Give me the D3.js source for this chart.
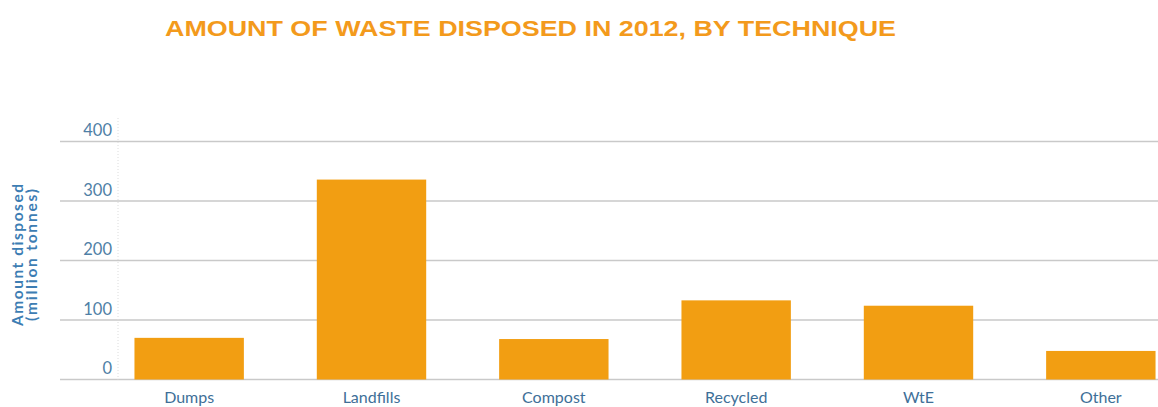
<!DOCTYPE html>
<html>
<head>
<meta charset="utf-8">
<script src="https://cdn.jsdelivr.net/npm/d3@7"></script>
<style>
  body { margin: 0; background: #fff; }
  svg { display: block; }
</style>
</head>
<body>
<svg id="chart"></svg>
<script>
// values (million tonnes)
let techniques = ["Dumps", "Landfills", "Compost", "Recycled", "WtE", "Other"]
let amounts = [70, 336, 68, 133, 124, 48]
let yTicks = [0, 100, 200, 300, 400]

let width = 1158
let height = 407

let svg = d3.select("#chart")
    .attr("width", width)
    .attr("height", height)

// title
svg.append("text")
    .attr("x", 165)
    .attr("y", 36)
    .attr("textLength", 731)
    .attr("lengthAdjust", "spacingAndGlyphs")
    .style("font-family", "Liberation Sans, Arial, sans-serif")
    .style("font-weight", "bold")
    .style("font-size", "21.5px")
    .style("fill", "#f39a1c")
    .text("AMOUNT OF WASTE DISPOSED IN 2012, BY TECHNIQUE")

// scales
let x = d3.scaleBand()
    .domain(techniques)
    .range([98, 1192])
    .paddingInner(0.4)
    .paddingOuter(0.2)

let y = d3.scaleLinear()
    .domain([0, 400])
    .range([379.5, 141.5])

// gridlines
svg.append("g")
    .selectAll("line")
    .data(yTicks)
    .enter()
    .append("line")
    .attr("x1", 60)
    .attr("x2", width)
    .attr("y1", d => y(d))
    .attr("y2", d => y(d))
    .attr("stroke", "#c9c9c9")
    .attr("stroke-width", 1.5)

// faint dotted vertical axis line
svg.append("line")
    .attr("x1", 118)
    .attr("x2", 118)
    .attr("y1", 118)
    .attr("y2", y(0))
    .attr("stroke", "#dcdcdc")
    .attr("stroke-width", 1)
    .attr("stroke-dasharray", "1,2")

// tick labels sit above their gridline
svg.append("g")
    .selectAll("text")
    .data(yTicks)
    .enter()
    .append("text")
    .attr("x", 112)
    .attr("y", d => y(d) - 5.5)
    .style("text-anchor", "end")
    .style("font-family", "Lato, sans-serif")
    .style("font-size", "16.5px")
    .style("fill", "#4f7fa6")
    .text(d => d)

// bars
svg.append("g")
    .selectAll("rect")
    .data(techniques)
    .enter()
    .append("rect")
    .attr("x", d => x(d))
    .attr("width", x.bandwidth())
    .attr("y", (d, i) => y(amounts[i]))
    .attr("height", (d, i) => y(0) - y(amounts[i]))
    .attr("fill", "#f29e12")

// category labels
svg.append("g")
    .selectAll("text")
    .data(techniques)
    .enter()
    .append("text")
    .attr("x", d => x(d) + x.bandwidth() / 2)
    .attr("y", 403)
    .style("text-anchor", "middle")
    .style("font-family", "Lato, sans-serif")
    .style("font-size", "16px")
    .style("fill", "#3e6f98")
    .text(d => d)

// y axis title, two rotated lines
let yTitle = svg.append("text")
    .attr("transform", "translate(23,255) rotate(-90)")
    .style("text-anchor", "middle")
    .style("font-family", "Lato, sans-serif")
    .style("font-weight", "bold")
    .style("font-size", "15.5px")
    .style("fill", "#3d7db3")

yTitle.append("tspan").attr("x", 0).attr("dy", 0)
    .attr("textLength", 142).attr("lengthAdjust", "spacing")
    .text("Amount disposed")
yTitle.append("tspan").attr("x", 0).attr("dy", 14)
    .attr("textLength", 132).attr("lengthAdjust", "spacing")
    .text("(million tonnes)")
</script>
</body>
</html>
